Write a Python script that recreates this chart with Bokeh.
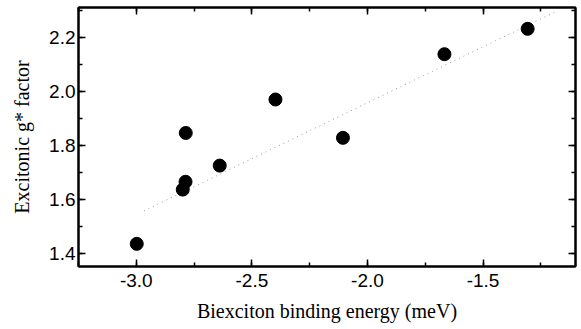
from bokeh.plotting import figure
from bokeh.models import LinearAxis, SingleIntervalTicker, Range1d, PrintfTickFormatter, CustomLabelingPolicy
from bokeh.embed import file_html
from bokeh.resources import INLINE

# Data
binding_energy = [-2.998, -2.786, -2.787, -2.799, -2.639, -2.398, -2.106, -1.667, -1.307]
g_factor = [1.434, 1.845, 1.664, 1.635, 1.724, 1.969, 1.827, 2.137, 2.231]

# Dotted linear fit endpoints
fit_x = [-2.967, -1.182]
fit_y = [1.556, 2.296]

x_ticks_interval = 0.5
y_ticks_interval = 0.2

p = figure(width=581, height=329, output_backend="svg", toolbar_location=None,
           x_range=Range1d(-3.25, -1.1), y_range=Range1d(1.35, 2.31),
           min_border_left=78, min_border_right=6, min_border_top=7, min_border_bottom=63,
           x_axis_label="Biexciton binding energy (meV)", y_axis_label="Excitonic g* factor")

p.grid.visible = False
p.outline_line_color = "black"
p.outline_line_width = 2
p.background_fill_color = "white"
p.border_fill_color = "white"

p.line(fit_x, fit_y, line_color="#999999", line_width=1, line_dash="1 4")
p.scatter(binding_energy, g_factor, size=13, fill_color="black", line_color="black")

p.xaxis.ticker = SingleIntervalTicker(interval=x_ticks_interval, num_minor_ticks=2)
p.yaxis.ticker = SingleIntervalTicker(interval=y_ticks_interval, num_minor_ticks=2)
p.xaxis.formatter = PrintfTickFormatter(format="%.1f")
p.yaxis.formatter = PrintfTickFormatter(format="%.1f")

for ax in p.xaxis + p.yaxis:
    ax.axis_line_color = "black"
    ax.axis_line_width = 2
    ax.major_tick_in = 7
    ax.major_tick_out = 0
    ax.minor_tick_in = 4
    ax.minor_tick_out = 0
    ax.major_tick_line_width = 1.5
    ax.minor_tick_line_width = 1.5
    ax.major_label_text_font = "Liberation Sans"
    ax.major_label_text_font_size = "19px"
    ax.major_label_text_color = "black"
    ax.axis_label_text_font = "Liberation Serif"
    ax.axis_label_text_font_size = "20px"
    ax.axis_label_text_font_style = "normal"
    ax.axis_label_text_color = "black"

p.xaxis.major_label_standoff = 7
p.xaxis.axis_label_standoff = 10
p.yaxis.major_label_standoff = 3
p.yaxis.axis_label_standoff = 13

hide_labels = CustomLabelingPolicy(code="""
    const all = [...indices]
    for (const i of all) indices.unset(i)
    return indices
""")

top = LinearAxis(ticker=SingleIntervalTicker(interval=x_ticks_interval, num_minor_ticks=2))
right = LinearAxis(ticker=SingleIntervalTicker(interval=y_ticks_interval, num_minor_ticks=2))
for ax in (top, right):
    ax.axis_line_color = "black"
    ax.axis_line_width = 2
    ax.major_tick_in = 7
    ax.major_tick_out = 0
    ax.minor_tick_in = 4
    ax.minor_tick_out = 0
    ax.major_tick_line_width = 1.5
    ax.minor_tick_line_width = 1.5
    ax.major_label_text_font_size = "1px"
    ax.major_label_standoff = 0
    ax.major_label_policy = hide_labels
p.add_layout(top, "above")
p.add_layout(right, "right")

open("out.html", "w").write(file_html(p, INLINE))
